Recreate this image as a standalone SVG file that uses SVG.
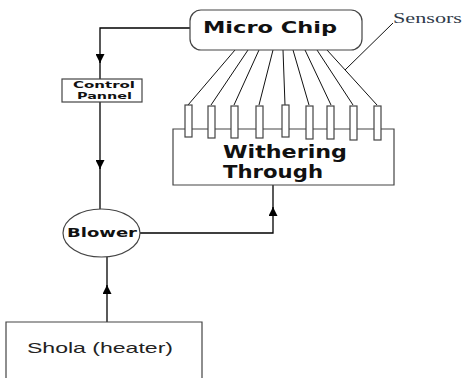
<svg xmlns="http://www.w3.org/2000/svg" width="465" height="378" viewBox="0 0 465 378">
<style>
.box{fill:#fff;stroke:#444;stroke-width:1.2}
.ln{fill:none;stroke:#000;stroke-width:1.3}
.sl{fill:none;stroke:#111;stroke-width:1}
.b{font-family:"DejaVu Sans",Verdana,sans-serif;font-weight:bold;fill:#111}
.r{font-family:"Liberation Sans",Arial,sans-serif;fill:#222}
.s{font-family:"Liberation Serif","DejaVu Serif",serif;fill:#2f3b4a}
</style>
<defs>
<marker id="arr" viewBox="0 0 10 10" refX="10" refY="5" markerWidth="9" markerHeight="9" markerUnits="userSpaceOnUse" orient="auto">
<path d="M0,0 L10,5 L0,10 z" fill="#000"/>
</marker>
</defs>
<rect width="465" height="378" fill="#fff"/>
<g id="connectors">
<path class="ln" d="M190,28 H100 V63" marker-end="url(#arr)"/>
<path class="ln" d="M100,60 V79"/>
<path class="ln" d="M100,102 V169" marker-end="url(#arr)"/>
<path class="ln" d="M100,166 V209"/>
<path class="ln" d="M107,322 V285" marker-end="url(#arr)"/>
<path class="ln" d="M107,288 V257"/>
<path class="ln" d="M140,233 H273 V207" marker-end="url(#arr)"/>
<path class="ln" d="M273,210 V185"/>
<path class="sl" d="M235,50 L188,105 M248,50 L211,105 M259,50 L234,105 M273,50 L259,105 M283,50 L285,105 M293,50 L309,105 M305,50 L331,105 M317,50 L353,105 M327,50 L377,105"/>
<path class="sl" d="M345,70 L393,23"/>
</g>
<g id="microchip">
<rect class="box" x="190" y="10" width="172" height="40" rx="11"/>
<text class="b" x="203" y="33" font-size="16" textLength="134" lengthAdjust="spacingAndGlyphs">Micro Chip</text>
</g>
<g id="sensors-label">
<text class="s" x="393" y="23" font-size="14" textLength="69" lengthAdjust="spacingAndGlyphs">Sensors</text>
</g>
<g id="control-panel">
<rect class="box" x="62" y="79" width="80" height="23"/>
<text class="b" x="73" y="88" font-size="9" textLength="62" lengthAdjust="spacingAndGlyphs">Control</text>
<text class="b" x="77" y="99" font-size="9" textLength="55" lengthAdjust="spacingAndGlyphs">Pannel</text>
</g>
<g id="withering">
<path class="box" d="M173,129 V185 H394 V129 Z"/>
<g class="box">
<rect x="185" y="105" width="7" height="32"/>
<rect x="208" y="106" width="7" height="32"/>
<rect x="231" y="106" width="7" height="32"/>
<rect x="256" y="106" width="7" height="32"/>
<rect x="282" y="105" width="7" height="32"/>
<rect x="306" y="106" width="7" height="33"/>
<rect x="327" y="106" width="7" height="33"/>
<rect x="350" y="106" width="7" height="34"/>
<rect x="374" y="106" width="7" height="34"/>
</g>
<text class="b" x="223" y="158" font-size="17" textLength="124" lengthAdjust="spacingAndGlyphs">Withering</text>
<text class="b" x="223" y="178" font-size="17" textLength="100" lengthAdjust="spacingAndGlyphs">Through</text>
</g>
<g id="blower">
<ellipse class="box" cx="101.5" cy="233" rx="38.5" ry="24"/>
<text class="b" x="67" y="237" font-size="12" textLength="70" lengthAdjust="spacingAndGlyphs">Blower</text>
</g>
<g id="shola">
<path class="box" d="M6,380 V322 H202 V380"/>
<text class="r" x="27" y="353" font-size="15" textLength="146" lengthAdjust="spacingAndGlyphs">Shola (heater)</text>
</g>
</svg>
